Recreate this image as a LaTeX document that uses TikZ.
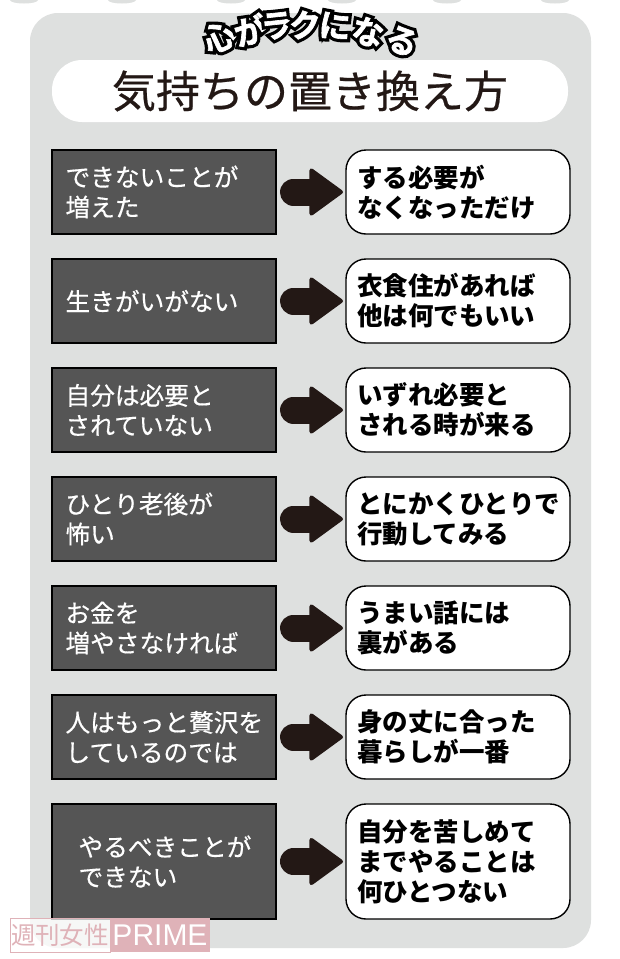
\documentclass[tikz,border=0pt]{standalone}
\usepackage{fontspec}
\setmainfont{Noto Sans CJK JP}
\newfontfamily\wmfont{Liberation Sans}
\newfontfamily\medfont{Noto Sans CJK JP}[FakeBold=0.5]
\newfontfamily\hdfont{Noto Sans CJK JP Bold}[FakeBold=2]
\newfontfamily\hdbackfont{Noto Sans CJK JP Bold}[FakeBold=22]
\definecolor{PanelGray}{HTML}{DEE0DF}
\definecolor{BoxGray}{HTML}{555555}
\definecolor{ArrowBlack}{HTML}{231815}
\definecolor{MarkPink}{HTML}{DFB2B8}
\usetikzlibrary{arrows.meta,positioning}
\def\bw{224pt}

\begin{document}
\begin{tikzpicture}
[x=1pt,y=-1pt,
   panel/.style={rectangle,fill=PanelGray,rounded corners=28pt,minimum width=561pt,minimum height=935pt,outer sep=0pt},
   pill/.style={rectangle,fill=white,rounded corners=30pt,minimum width=516pt,minimum height=62pt,outer sep=0pt,
   text=ArrowBlack,font=\medfont\fontsize{44}{50}\selectfont},
   worry/.style={rectangle,draw=black,line width=1.2pt,fill=BoxGray,text=white,minimum width=\bw,minimum height=84pt,
   outer sep=0pt,inner xsep=13.5pt,inner ysep=0pt,text width=197pt,align=left,font=\medfont\fontsize{24.7}{30}\selectfont},
   answer/.style={rectangle,draw=black,line width=1.4pt,fill=white,text=black,rounded corners=20pt,minimum width=\bw,minimum height=84pt,
   outer sep=0pt,inner xsep=11pt,inner ysep=0pt,text width=202pt,align=left,font=\fontsize{25.5}{30}\bfseries\selectfont},
   fatarrow/.style={draw=ArrowBlack,line width=27pt,line cap=round,shorten <=17.5pt,shorten >=3pt,
   -{Triangle[length=35pt,width=50pt,fill=ArrowBlack,line width=4pt,round]}},
   hdback/.style={text=black,inner sep=0pt,font=\hdbackfont\fontsize{32}{36}\selectfont},
   hd/.style={text=white,inner sep=0pt,font=\hdfont\fontsize{32}{36}\selectfont},
   wmark/.style={rectangle,minimum height=34pt,inner sep=0pt,outer sep=0pt,font=\fontsize{24.5}{30}\selectfont}]
\useasboundingbox (0,0) rectangle (620,959);
\fill[white] (0,0) rectangle (620,959);

% blobs cut by the top edge
\foreach \bx in {24,122,231,342,447,555}
   \fill[PanelGray] (\bx,0) ellipse (14 and 3.5);

\node[panel] (back) at (310.5,480.5) {};
\node[pill] (title) at (310,91) {気持ちの置き換え方};

\foreach \ch/\hx/\hy/\hr [count=\i] in {心/219/37/25,が/250/30/14,ラ/277/26/6,ク/305/25/0,に/335/26/-6,な/368/32/-13,る/402/41/-22}{
   \node[hdback,rotate=\hr] (hdb\i) at (\hx,\hy) {\ch};
   \node[hd,rotate=\hr] (hd\i) at (\hx,\hy) {\ch};
}

\node[worry] (left1) at (164,192) {できないことが\\増えた};
\node[worry,below=25pt of left1] (left2) {生きがいがない};
\node[worry,below=25pt of left2] (left3) {自分は必要と\\されていない};
\node[worry,below=25pt of left3] (left4) {ひとり老後が\\怖い};
\node[worry,below=25pt of left4] (left5) {お金を\\増やさなければ};
\node[worry,below=25pt of left5] (left6) {人はもっと贅沢を\\しているのでは};
\node[worry,below=25pt of left6,minimum height=115pt] (left7) {\hspace*{13pt}やるべきことが\\\hspace*{13pt}できない};

\node[answer,right=70pt of left1] (right1) {する必要が\\なくなっただけ};
\node[answer,right=70pt of left2] (right2) {衣食住があれば\\他は何でもいい};
\node[answer,right=70pt of left3] (right3) {いずれ必要と\\される時が来る};
\node[answer,right=70pt of left4] (right4) {とにかくひとりで\\行動してみる};
\node[answer,right=70pt of left5] (right5) {うまい話には\\裏がある};
\node[answer,right=70pt of left6] (right6) {身の丈に合った\\暮らしが一番};
\node[answer,right=70pt of left7,minimum height=115pt] (right7) {自分を苦しめて\\までやることは\\何ひとつない};

\foreach \i in {1,...,7}
   \draw[fatarrow] (left\i.east) -- (right\i.west);

% watermark
\node[wmark,fill=white,fill opacity=.75,text opacity=1,draw=MarkPink,line width=1pt,text=MarkPink,minimum width=100pt] (markl) at (60,935) {週刊女性};
\node[wmark,fill=MarkPink,text=white,minimum width=100pt,right=0pt of markl,font=\wmfont\fontsize{30}{32}\selectfont] (markr) {PRIME};
\end{tikzpicture}
\end{document}
